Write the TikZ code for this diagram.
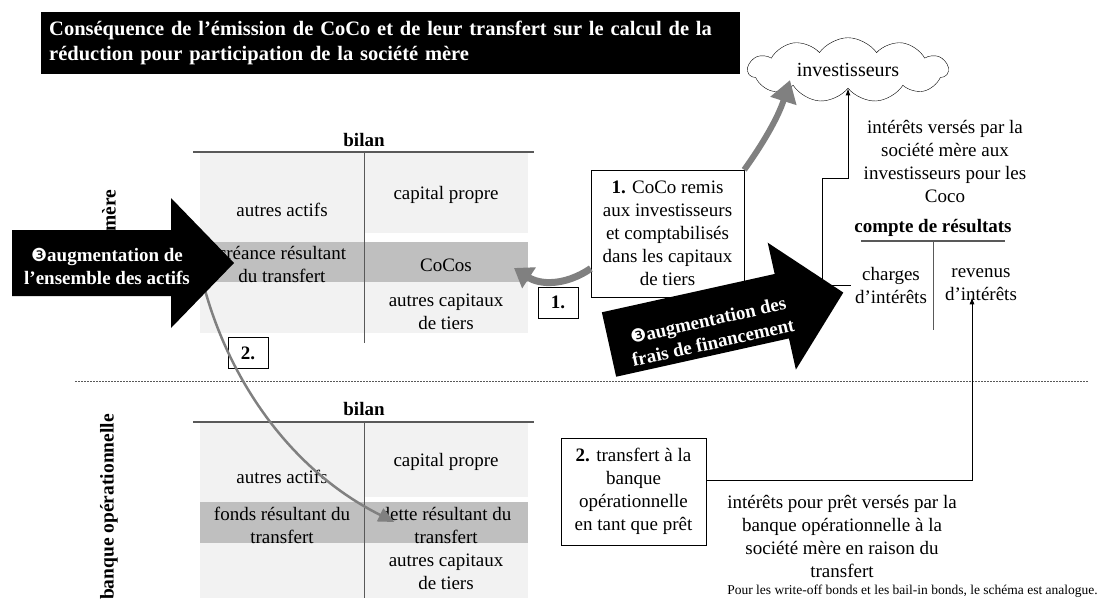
\documentclass[tikz,border=0pt]{standalone}
\usepackage{fontspec}
\setmainfont{Liberation Serif}
\newfontfamily\dejavu{DejaVu Sans}
\usetikzlibrary{arrows.meta,shapes.symbols,calc}

\definecolor{clair}{HTML}{F2F2F2}
\definecolor{fonce}{HTML}{BFBFBF}
\definecolor{gris}{HTML}{808080}
\definecolor{trait}{HTML}{595959}

\newcommand{\txt}{\fontsize{19}{23}\selectfont}
\newcommand{\trois}{{\fontsize{18}{18}\dejavu\mdseries ❸}}
% grosse fleche noire le long de x, queue a l'origine
\newcommand{\grossefleche}[1]{(0,-33) -- ({#1-63},-33) -- ({#1-63},-65) -- (#1,0) -- ({#1-63},65) -- ({#1-63},33) -- (0,33) -- cycle}

\tikzset{
  lbl/.style={font=\txt, align=center, inner sep=0pt},
  boite/.style={draw, fill=white, font=\txt, align=center, inner sep=2pt},
  numero/.style={draw, fill=white, font=\txt\bfseries, minimum width=40, minimum height=31, inner sep=0pt},
  blanc/.style={text=white, font=\txt\bfseries, align=center, inner sep=0pt},
  vertical/.style={font=\fontsize{19.5}{23}\selectfont\bfseries, rotate=90, inner sep=0pt},
  gfleche/.style={draw=gris, line width=#1, -{Triangle[length=22pt,width=26pt]}},
  fil/.style={draw, line width=0.9pt, -{Latex[length=7pt,width=5pt]}},
}

\begin{document}
\begin{tikzpicture}[x=1pt, y=-1pt]
\useasboundingbox (0,0) rectangle (1102,598);

% titre
\node[fill=black, text=white, anchor=north west, minimum width=699, minimum height=62,
  text width=693, align=left, inner xsep=3pt, inner ysep=6pt,
  font=\fontsize{20.5}{25}\selectfont\bfseries] (titre) at (41,12)
  {\hspace*{5pt}Conséquence de l’émission de CoCo et de leur transfert sur le calcul de la\\\hspace*{5pt}réduction pour participation de la société mère};

% bilan de la societe mere
\fill[clair] (200,152) rectangle (364,242);
\fill[clair] (364,152) rectangle (528,233);
\fill[fonce] (200,242) rectangle (528,282);
\fill[clair] (200,282) rectangle (528,333);
\draw[trait, line width=1.2pt] (193,152) -- (534,152);
\draw[trait, line width=1pt] (364,152) -- (364,343);
\node[font=\txt\bfseries] (bilan1) at (364,140) {bilan};
\node[lbl] (aa1) at (282,210) {autres actifs};
\node[lbl] (cp1) at (446,195) {capital propre};
\node[lbl] (cr1) at (282,264) {créance résultant\\du transfert};
\node[lbl] (cocos) at (446,265) {CoCos};
\node[lbl] (act1) at (446,312) {autres capitaux\\de tiers};

% bilan de la banque operationnelle
\fill[clair] (200,422) rectangle (364,502);
\fill[clair] (364,422) rectangle (528,497);
\fill[fonce] (200,502) rectangle (528,543);
\fill[clair] (200,543) rectangle (528,598);
\draw[trait, line width=1.2pt] (193,422) -- (534,422);
\draw[trait, line width=1pt] (364,422) -- (364,598);
\node[font=\txt\bfseries] (bilan2) at (364,409) {bilan};
\node[lbl] (aa2) at (282,477) {autres actifs};
\node[lbl] (cp2) at (446,462) {capital propre};
\node[lbl] (fr2) at (282,525) {fonds résultant du\\transfert};
\node[lbl] (dr2) at (446,525) {dette résultant du\\transfert};
\node[lbl] (act2) at (446,572) {autres capitaux\\de tiers};

\node[vertical] (mere) at (109,241) {société mère};
\node[vertical] (banque) at (109,507) {banque opérationnelle};

\draw[trait, line width=0.8pt, dash pattern=on 1.5pt off 1.5pt] (75,381) -- (1088,381);

% transfert 2.
\node[numero] (n2) at (248,353) {2.};
\coordinate (depart2) at (205,290);
\draw[gfleche=2.5pt, -{Triangle[length=16pt,width=14pt]}] (depart2) .. controls (230,380) and (290,470) .. ([xshift=14pt, yshift=3pt]dr2.west);

% augmentation des actifs
\fill[black, shift={(12,263)}] \grossefleche{222};
\node[blanc] (actifs) at (107,266) {\trois augmentation de\\l’ensemble des actifs};

% investisseurs
\node[cloud, draw, cloud puffs=11, cloud puff arc=110, aspect=3.2, minimum width=200,
  minimum height=64, inner sep=0pt, font=\fontsize{20}{24}\selectfont] (inv) at (848,70) {investisseurs};

\node[boite, minimum width=153, minimum height=127] (coco) at (667.5,233.5)
  {\textbf{1.} CoCo remis\\aux investisseurs\\et comptabilisés\\dans les capitaux\\de tiers};
\node[numero] (n1) at (558,302.5) {1.};
\coordinate (pointe1) at (514,268);
\draw[gfleche=6pt] (coco.north east) .. controls (762,145) and (778,118) .. ($(inv.center)+(-58,10)$);
\draw[gfleche=7pt, -{Triangle[length=18pt,width=24pt]}] ($(coco.west)+(0,35)$) .. controls (565,286) and (540,285) .. (pointe1);

% augmentation des frais
\begin{scope}[shift={(609,344.5)}, rotate=12.5]
\fill[black] \grossefleche{240};
\node[blanc, rotate=12.5] (frais) at (102,9) {\trois augmentation des\\frais de financement};
\end{scope}

% compte de resultats
\node[font=\txt\bfseries] (cdr) at (933,228) {compte de résultats};
\draw[trait, line width=1.2pt] (861,241) -- (1005,241);
\draw[trait, line width=1pt] (933,241) -- (933,330);
\node[lbl, inner sep=4pt] (chg) at (891,285) {charges\\d’intérêts};
\node[lbl] (rev) at (981,285) {revenus\\d’intérêts};
\node[lbl] (iv) at (945,161) {intérêts versés par la\\société mère aux\\investisseurs pour les\\Coco};
\draw[fil] (chg.west) -| (822,178) -| (inv.south);

\node[boite, minimum width=145, minimum height=107] (trb) at (633.5,491.5)
  {\textbf{2.} transfert à la\\banque\\opérationnelle\\en tant que prêt};
\draw[fil] ([yshift=11.5pt]trb.east) -| ([xshift=-9pt, yshift=4pt]rev.south);
\node[lbl] (ip) at (842,536) {intérêts pour prêt versés par la\\banque opérationnelle à la\\société mère en raison du\\transfert};

\node[font=\fontsize{13.5}{16}\selectfont, anchor=east, inner sep=0pt] (note) at (1098,591)
  {Pour les write-off bonds et les bail-in bonds, le schéma est analogue.};
\end{tikzpicture}
\end{document}
